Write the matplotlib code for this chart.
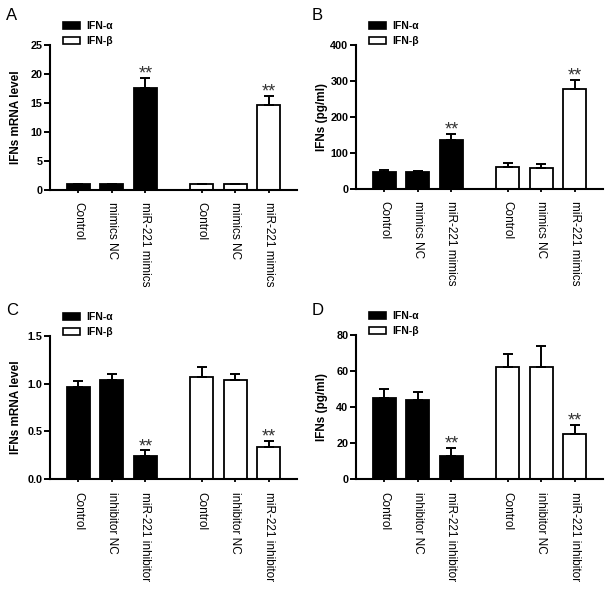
import numpy as np
import matplotlib
matplotlib.use('Agg')
import matplotlib.pyplot as plt
from matplotlib.patches import Patch

plt.rcParams['font.family'] = ['Liberation Sans', 'DejaVu Sans']

# data
labels_mimic = ['Control', 'mimics NC', 'miR-221 mimics']
labels_inhib = ['Control', 'inhibitor NC', 'miR-221 inhibitor']

a_alpha = [1.0, 1.0, 17.6]
a_alpha_err = [0.1, 0.1, 1.7]
a_beta = [1.0, 1.0, 14.6]
a_beta_err = [0.1, 0.1, 1.6]

b_alpha = [47, 47, 137]
b_alpha_err = [7, 4, 16]
b_beta = [61, 59, 278]
b_beta_err = [10, 10, 25]

c_alpha = [0.97, 1.04, 0.24]
c_alpha_err = [0.06, 0.06, 0.06]
c_beta = [1.07, 1.04, 0.34]
c_beta_err = [0.11, 0.06, 0.06]

d_alpha = [45, 44, 13]
d_alpha_err = [5, 4.5, 4.5]
d_beta = [62, 62, 25]
d_beta_err = [7.5, 12, 5]

pos_alpha = np.array([0, 1, 2])
pos_beta = np.array([3.67, 4.67, 5.67])
W = 0.68

fig = plt.figure(figsize=(6.13, 5.9), dpi=100)
FW, FH = 613, 590


def px_axes(left, top, right, bottom):
    return fig.add_axes([left / FW, 1 - bottom / FH, (right - left) / FW, (bottom - top) / FH])


def panel(ax, alpha, alpha_err, beta, beta_err, labels, ylim, yticks, ylabel, fmt, letter, lx, ly):
    ekw = dict(elinewidth=1.4, capthick=1.4, ecolor='black')
    ax.bar(pos_alpha, alpha, W, color='black', edgecolor='black', linewidth=1.3,
           yerr=[np.zeros(3), alpha_err], capsize=3.5, error_kw=ekw, zorder=2)
    ax.bar(pos_beta, beta, W, color='white', edgecolor='black', linewidth=1.3,
           yerr=[np.zeros(3), beta_err], capsize=3.5, error_kw=ekw, zorder=2)
    # significance stars on the third bar of each group
    for x, v, e in [(pos_alpha[2], alpha[2], alpha_err[2]), (pos_beta[2], beta[2], beta_err[2])]:
        ax.annotate('**', (x, v + e), xytext=(0, -0.5), textcoords='offset points',
                    ha='center', va='baseline', fontsize=13, color='#333333')
    ax.set_xlim(-0.84, 6.51)
    ax.set_ylim(*ylim)
    ax.set_yticks(yticks)
    ax.set_yticklabels([fmt.format(t) for t in yticks], fontsize=7.8, fontweight='bold')
    ax.set_xticks(np.concatenate([pos_alpha, pos_beta]))
    ax.set_xticklabels(labels + labels, rotation=-90, fontsize=8.5, va='top', ha='center')
    ax.tick_params(axis='x', length=2.5, width=1.3, pad=6.5)
    ax.tick_params(axis='y', length=4, width=1.4, pad=1.5)
    for s in ['top', 'right']:
        ax.spines[s].set_visible(False)
    for s in ['left', 'bottom']:
        ax.spines[s].set_linewidth(1.5)
    ax.set_ylabel(ylabel, fontsize=8.5, fontweight='bold')
    ax.yaxis.set_label_coords(-0.113, 0.5)
    handles = [Patch(facecolor='black', edgecolor='black', linewidth=1.2, label='IFN-α'),
               Patch(facecolor='white', edgecolor='black', linewidth=1.2, label='IFN-β')]
    ax.legend(handles=handles, loc='upper left', bbox_to_anchor=(0.053, 1.165),
              frameon=False, borderpad=0, borderaxespad=0, handlelength=1.6,
              handleheight=0.65, handletextpad=0.6, labelspacing=0.45,
              prop={'size': 7.5, 'weight': 'bold'})
    fig.text(lx / FW, 1 - ly / FH, letter, fontsize=12, va='baseline', ha='left')


axA = px_axes(50, 45, 297, 190)
panel(axA, a_alpha, a_alpha_err, a_beta, a_beta_err, labels_mimic, (0, 25),
      [0, 5, 10, 15, 20, 25], 'IFNs mRNA level', '{:g}', 'A', 6, 20)

axB = px_axes(356, 45, 603, 189)
panel(axB, b_alpha, b_alpha_err, b_beta, b_beta_err, labels_mimic, (0, 400),
      [0, 100, 200, 300, 400], 'IFNs (pg/ml)', '{:g}', 'B', 312, 20)

axC = px_axes(50, 336, 297, 479)
panel(axC, c_alpha, c_alpha_err, c_beta, c_beta_err, labels_inhib, (0, 1.5),
      [0, 0.5, 1.0, 1.5], 'IFNs mRNA level', '{:.1f}', 'C', 6, 315)

axD = px_axes(356, 335, 603, 479)
panel(axD, d_alpha, d_alpha_err, d_beta, d_beta_err, labels_inhib, (0, 80),
      [0, 20, 40, 60, 80], 'IFNs (pg/ml)', '{:g}', 'D', 312, 315)

fig.savefig('out.png', dpi=100)
